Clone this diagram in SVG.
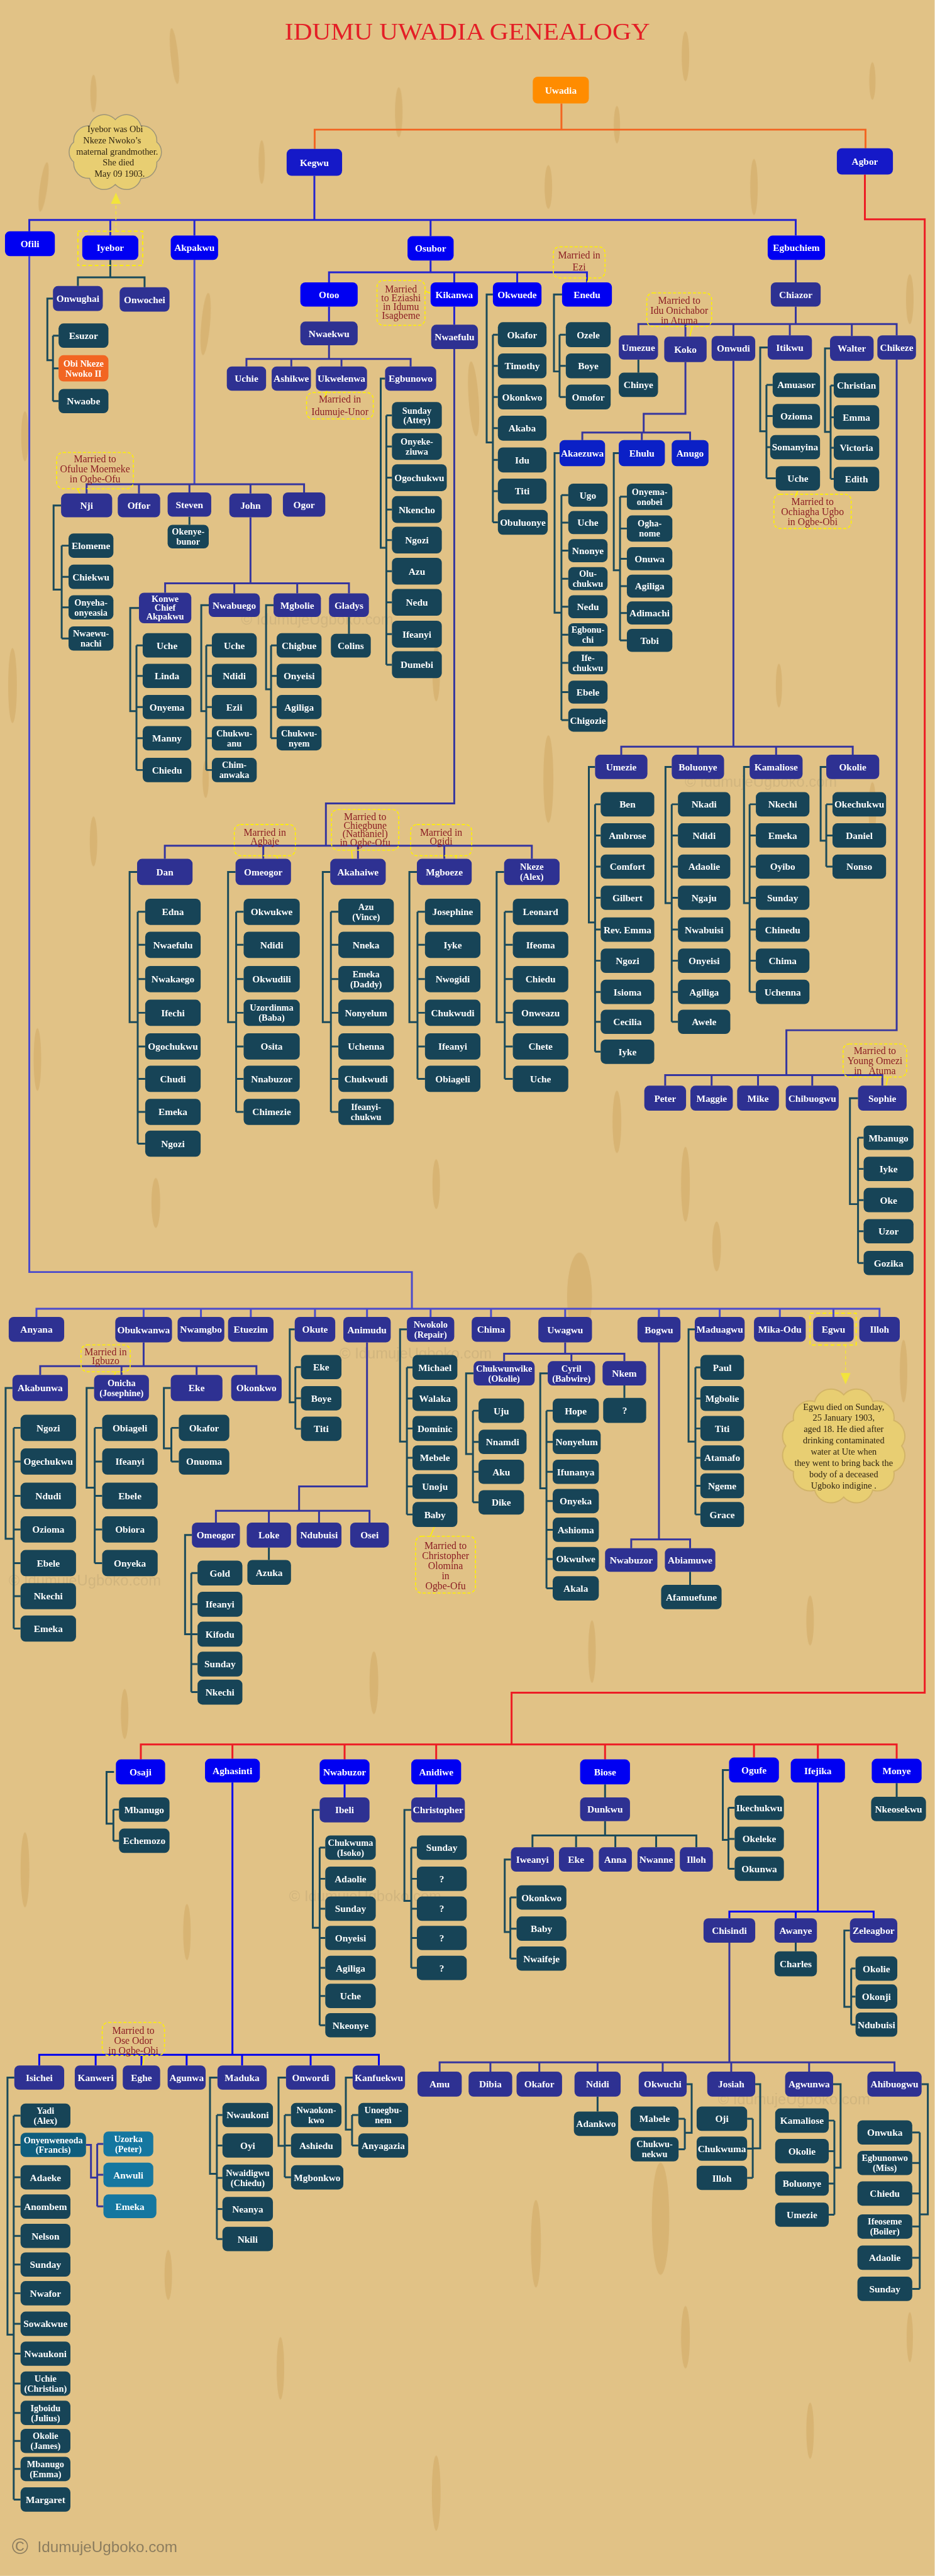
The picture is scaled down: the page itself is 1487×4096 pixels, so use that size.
<svg xmlns="http://www.w3.org/2000/svg" width="1487" height="4096" viewBox="0 0 1487 4096">
<style>
.nodes rect{rx:8px;ry:8px}
.b{fill:#0000F2}.k{fill:#1519C8}.a{fill:#0B20C6}.i{fill:#2E3192}.t{fill:#174457}.o{fill:#FF8C00}.r{fill:#F26522}.l{fill:#1577A0}.f{fill:#0F5E7E}
.nodes text{fill:#fff;font-family:"Liberation Serif",serif;font-weight:bold;font-size:15.5px;text-anchor:middle}
.nodes text.s{font-size:14.5px}
#connectors path{fill:none;stroke-width:3}
.cO{stroke:#F26522}.cR{stroke:#ED1C24}.cB{stroke:#2323D0}.cL{stroke:#4A4ACC}.cI{stroke:#35359F}.cV{stroke:#0000F0}.cT{stroke:#1A4A5B}
.note rect{fill:none;stroke:#FFF200;stroke-width:1.6;stroke-dasharray:5 3;rx:10px;ry:10px}
.note text{fill:#8B1D24;font-family:"Liberation Serif",serif;font-size:16px;text-anchor:middle}
.tail{fill:none;stroke:#FFF200;stroke-width:1.6}
.cloud text{fill:#2A1F0F;font-family:"Liberation Serif",serif;font-size:14.5px;text-anchor:middle}
.wm{fill:#8C7D5F;font-family:"Liberation Sans",sans-serif}
</style>
<g transform="scale(0.991)">
<rect width="1500" height="4133" fill="#E1C286"/>
<g id="texture" fill="#D2AB68" opacity="0.6">
<ellipse cx="70" cy="300" rx="6" ry="40" transform="rotate(8 70 300)"/>
<ellipse cx="150" cy="150" rx="5" ry="30"/>
<ellipse cx="280" cy="90" rx="6" ry="45" transform="rotate(-6 280 90)"/>
<ellipse cx="420" cy="260" rx="5" ry="35"/>
<ellipse cx="330" cy="520" rx="7" ry="50" transform="rotate(5 330 520)"/>
<ellipse cx="640" cy="180" rx="6" ry="40"/>
<ellipse cx="760" cy="640" rx="8" ry="60" transform="rotate(-4 760 640)"/>
<ellipse cx="880" cy="300" rx="6" ry="35"/>
<ellipse cx="990" cy="200" rx="5" ry="30"/>
<ellipse cx="1100" cy="90" rx="6" ry="40"/>
<ellipse cx="1210" cy="300" rx="6" ry="45"/>
<ellipse cx="1400" cy="130" rx="5" ry="30"/>
<ellipse cx="1460" cy="480" rx="6" ry="40"/>
<ellipse cx="40" cy="700" rx="6" ry="40"/>
<ellipse cx="20" cy="1100" rx="7" ry="60"/>
<ellipse cx="150" cy="1350" rx="6" ry="40"/>
<ellipse cx="330" cy="1250" rx="5" ry="30"/>
<ellipse cx="60" cy="1700" rx="6" ry="50"/>
<ellipse cx="250" cy="1930" rx="7" ry="40"/>
<ellipse cx="700" cy="1080" rx="6" ry="45"/>
<ellipse cx="880" cy="1250" rx="8" ry="70"/>
<ellipse cx="990" cy="1800" rx="7" ry="50"/>
<ellipse cx="700" cy="1900" rx="6" ry="40"/>
<ellipse cx="1250" cy="1100" rx="5" ry="35"/>
<ellipse cx="1400" cy="1300" rx="6" ry="45"/>
<ellipse cx="1100" cy="1900" rx="7" ry="60"/>
<ellipse cx="1300" cy="2600" rx="6" ry="40"/>
<ellipse cx="1450" cy="2200" rx="6" ry="50"/>
<ellipse cx="600" cy="2700" rx="7" ry="50"/>
<ellipse cx="200" cy="2750" rx="6" ry="40"/>
<ellipse cx="40" cy="3000" rx="7" ry="60"/>
<ellipse cx="300" cy="3100" rx="6" ry="45"/>
<ellipse cx="860" cy="3600" rx="8" ry="70"/>
<ellipse cx="1100" cy="3750" rx="7" ry="50"/>
<ellipse cx="450" cy="3800" rx="6" ry="50"/>
<ellipse cx="1300" cy="3900" rx="6" ry="45"/>
<ellipse cx="700" cy="4000" rx="7" ry="60"/>
<ellipse cx="1460" cy="3750" rx="5" ry="40"/>
<ellipse cx="270" cy="3650" rx="6" ry="40"/>
<ellipse cx="950" cy="2650" rx="6" ry="50"/>
<ellipse cx="1150" cy="2000" rx="7" ry="40"/>
<ellipse cx="1060" cy="3560" rx="14" ry="90"/>
<ellipse cx="930" cy="2080" rx="20" ry="70"/>
</g>
<g id="watermarks" opacity="0.18">
<text class="wm" x="387" y="1002" font-size="24">© IdumujeUgboko.com</text>
<text class="wm" x="1099" y="1262" font-size="24">© IdumujeUgboko.com</text>
<text class="wm" x="14" y="2544" font-size="24">© IdumujeUgboko.com</text>
<text class="wm" x="545" y="2180" font-size="24">© IdumujeUgboko.com</text>
<text class="wm" x="464" y="3050" font-size="24">© IdumujeUgboko.com</text>
<text class="wm" x="1152" y="3376" font-size="24">© IdumujeUgboko.com</text>
</g>
<text id="title" x="750" y="64" font-family="Liberation Serif, serif" font-size="39" fill="#E41E26" text-anchor="middle" textLength="586" lengthAdjust="spacingAndGlyphs">IDUMU UWADIA GENEALOGY</text>

<g id="connectors">
<path class="cO" d="M901 166V208M505 239V208H1389V238"/>
<path class="cR" d="M1388 280V352H1484V2716H821V2799M226 2823V2799H1439V2822M373 2822V2799M553 2823V2799M700 2823V2799M971 2823V2799M1210 2820V2799M1312.5 2822V2799"/>
<path class="cB" d="M504.5 282V353M47 371V353H1277V378M177 378V353M312 378V353M691 379V353M691 418V437M528 453V437H942V453M729 453V437M830 453V437M528 492V516M729 492V521"/>
<path class="cL" d="M47 411V2041H661V2100M58.5 2113V2100H1411.5V2113M230.5 2113V2100M322.5 2113V2100M402.5 2113V2100M505.5 2113V2100M589 2113V2100M691 2113V2100M788 2113V2100M907 2113V2100M1057.5 2113V2100M1155 2113V2100M1251.5 2113V2100M1337.5 2113V2100M312 417V777"/>
<path class="cI" d="M528 554V576M395.5 588V576H659V588M467.5 588V576M548 588V576"/>
<path class="cI" d="M1277 417V453M1277 492V520M1024.5 538V520H1439V538M1100 540V520M1177 539V520M1267.5 538V520M1367 539V520"/>
<path class="cI" d="M1100 581V664H1033V694M934.5 706V694H1107.5V706M1030 706V694"/>
<path class="cI" d="M1177 579V1198M997 1211V1198H1368.5V1211M1120 1211V1198M1245.5 1211V1198"/>
<path class="cI" d="M1439 577V1653H1262V1725M1067.5 1742V1725H1416V1742M1142 1742V1725M1216.5 1742V1725M1303.5 1742V1725"/>
<path class="cI" d="M139 792V777H488V790M223 792V777M304 790V777M402 792V777"/>
<path class="cI" d="M402 830V936M265 951V936H560V952M376 952V936M477 952V936"/>
<path class="cI" d="M729 560V1289H523V1357M264.5 1378V1357H853.5V1378M422.5 1378V1357M574.5 1378V1357M713 1378V1357"/>
<path class="cI" d="M230.5 2154V2192M64.5 2206V2192H411.5V2206M195 2206V2192M315.5 2206V2192"/>
<path class="cI" d="M589 2154V2385H480V2424M346.5 2443V2424H593V2443M431.5 2443V2424M512 2443V2424"/>
<path class="cI" d="M907 2154V2172M809 2184V2172H1002V2184M917 2184V2172"/>
<path class="cI" d="M1057.5 2154V2470M1013 2484V2470H1107.5V2484"/>
<path class="cI" d="M1170.5 3117V3309M705.5 3324V3309H1435.5V3324M787 3324V3309M865.5 3324V3309M959 3324V3309M1063.5 3324V3309M1173.5 3324V3309M1298.5 3324V3309"/>
<path class="cI" d="M138 3441.5H146V3494H156M156 3440V3540M156 3440H166M156 3489.5H166M156 3540H166"/>
<path class="cV" d="M373 2860V3297M63 3314V3297H608V3314M153.5 3314V3297M227 3314V3297M299.5 3314V3297M388.5 3314V3297M498.5 3314V3297M553 2863V2884M700 2863V2884M1312.5 2860V3067M1170.5 3078V3067H1402V3078M1277 3078V3067"/>
<path class="cT" d="M177 417V445M125 459V445H232V461"/>
<path class="cT" d="M85 479H76V578H85M85 538.5V643.5M85 538.5H94M85 591H94M85 643.5H94"/>
<path class="cT" d="M618 607.5H611V879H620M620 666.5V1066.5M620 666.5H629M620 716.5H629M620 766.5H629M620 817.5H629M620 866.5H629M620 916.5H629M620 966.5H629M620 1017.5H629M620 1066.5H629"/>
<path class="cT" d="M791 472.5H781V710H791M791 537V838M791 537H799M791 587H799M791 637H799M791 687H799M791 738H799M791 788H799M791 838H799"/>
<path class="cT" d="M902 472.5H889V596H898M898 537V637M898 537H908M898 587H908M898 637H908"/>
<path class="cT" d="M1024.5 577V598"/>
<path class="cT" d="M1232 557.5H1220V692H1230M1230 617.5V767.5M1230 617.5H1240M1230 667.5H1240M1230 717.5H1236M1230 767.5H1245"/>
<path class="cT" d="M1332 559H1324V693H1333M1333 618.5V768.5M1333 618.5H1338M1333 669.5H1338M1333 718.5H1338M1333 768.5H1338"/>
<path class="cT" d="M898 727H890V983H901M901 794.5V1155.5M901 794.5H912M901 838.5H912M901 883.5H912M901 928.5H912M901 973.5H912M901 1018.5H912M901 1063.5H912M901 1110.5H912M901 1155.5H912"/>
<path class="cT" d="M993 727H985V915H995M995 797V1027.5M995 797H1006M995 848H1006M995 896.5H1006M995 940.5H1006M995 983.5H1006M995 1027.5H1006"/>
<path class="cT" d="M955 1230.5H945V1480H955M955 1290.5V1687.5M955 1290.5H964M955 1340.5H964M955 1390.5H964M955 1440.5H964M955 1491.5H964M955 1541.5H964M955 1591.5H964M955 1639.5H964M955 1687.5H964"/>
<path class="cT" d="M1078 1230.5H1068V1449H1078M1078 1290.5V1639.5M1078 1290.5H1088M1078 1340.5H1088M1078 1390.5H1088M1078 1440.5H1088M1078 1491.5H1088M1078 1541.5H1088M1078 1591.5H1088M1078 1639.5H1088"/>
<path class="cT" d="M1203 1230.5H1194V1449H1203M1203 1290.5V1591.5M1203 1290.5H1213M1203 1340.5H1213M1203 1390.5H1213M1203 1440.5H1213M1203 1491.5H1213M1203 1541.5H1213M1203 1591.5H1213"/>
<path class="cT" d="M1326 1230.5H1317V1349H1326M1326 1290.5V1390.5M1326 1290.5H1336M1326 1340.5H1336M1326 1390.5H1336"/>
<path class="cT" d="M1377 1762H1364V1932H1377M1377 1825.5V2026.5M1377 1825.5H1386M1377 1875.5H1386M1377 1925.5H1386M1377 1975.5H1386M1377 2026.5H1386"/>
<path class="cT" d="M304 829V842"/>
<path class="cT" d="M98 811H86V946H99M99 875.5V1024.5M99 875.5H110M99 925.5H110M99 974.5H110M99 1024.5H110"/>
<path class="cT" d="M223 975.5H209V1141H219M219 1035.5V1235.5M219 1035.5H229M219 1084.5H229M219 1134.5H229M219 1184.5H229M219 1235.5H229"/>
<path class="cT" d="M335 971H323V1141H331M331 1035.5V1235.5M331 1035.5H340M331 1084.5H340M331 1134.5H340M331 1184.5H340M331 1235.5H340"/>
<path class="cT" d="M439 971H427V1106H435M435 1035.5V1184.5M435 1035.5H444M435 1084.5H444M435 1134.5H444M435 1184.5H444"/>
<path class="cT" d="M560 990V1017"/>
<path class="cT" d="M220 1399H208V1640H221M221 1463V1835M221 1463H233M221 1516H233M221 1571H233M221 1625H233M221 1679H233M221 1731H233M221 1784H233M221 1835H233"/>
<path class="cT" d="M378 1399H366V1640H379M379 1463V1784M379 1463H391M379 1516H391M379 1571H391M379 1625H391M379 1679H391M379 1731H391M379 1784H391"/>
<path class="cT" d="M530 1399H518V1640H531M531 1463V1784M531 1463H543M531 1516H543M531 1571H543M531 1625H543M531 1679H543M531 1731H543M531 1784H543"/>
<path class="cT" d="M669 1399H657V1640H670M670 1463V1731M670 1463H682M670 1516H682M670 1571H682M670 1625H682M670 1679H682M670 1731H682"/>
<path class="cT" d="M809 1399H797V1640H810M810 1463V1731M810 1463H823M810 1516H823M810 1571H823M810 1625H823M810 1679H823M810 1731H823"/>
<path class="cT" d="M20 2227H9V2469H22M22 2291V2613M22 2291H33M22 2345H33M22 2400H33M22 2454H33M22 2508H33M22 2561H33M22 2613H33"/>
<path class="cT" d="M151 2227H139V2387H152M152 2291V2508M152 2291H164M152 2345H164M152 2400H164M152 2454H164M152 2508H164"/>
<path class="cT" d="M274 2227H263V2324H275M275 2291V2345M275 2291H287M275 2345H287"/>
<path class="cT" d="M473 2133H465V2250H474M474 2193.5V2292.5M474 2193.5H483M474 2243.5H483M474 2292.5H483"/>
<path class="cT" d="M308 2463H297V2622H307M307 2524V2715M307 2524H317M307 2574H317M307 2622H317M307 2670H317M307 2715H317"/>
<path class="cT" d="M431.5 2483V2503"/>
<path class="cT" d="M653 2133H642V2313H653M653 2194V2430M653 2194H662M653 2244H662M653 2292H662M653 2339H662M653 2385H662M653 2430H662"/>
<path class="cT" d="M1002 2223V2243"/>
<path class="cT" d="M760 2203.5H748V2333H759M759 2263.5V2410.5M759 2263.5H768M759 2313.5H768M759 2361.5H768M759 2410.5H768"/>
<path class="cT" d="M879 2203.5H867V2388H877M877 2263.5V2548.5M877 2263.5H887M877 2313.5H887M877 2361.5H887M877 2408.5H887M877 2454.5H887M877 2501.5H887M877 2548.5H887"/>
<path class="cT" d="M1107.5 2522V2543"/>
<path class="cT" d="M1115 2133H1105V2313H1116M1116 2194V2430M1116 2194H1124M1116 2244H1124M1116 2292H1124M1116 2339H1124M1116 2384H1124M1116 2430H1124"/>
<path class="cT" d="M183 2843H171V2926H182M182 2903.5V2953.5M182 2903.5H191M182 2953.5H191"/>
<path class="cT" d="M513 2904H502V3093H513M513 2964.5V3249.5M513 2964.5H522M513 3014.5H522M513 3062.5H522M513 3109.5H522M513 3157.5H522M513 3202.5H522M513 3249.5H522"/>
<path class="cT" d="M660 2904H649V3050H660M660 2964.5V3157.5M660 2964.5H669M660 3014.5H669M660 3062.5H669M660 3109.5H669M660 3157.5H669"/>
<path class="cT" d="M971 2863V2884M971 2922V2945M854.5 2964V2945H1117.5V2964M924.5 2964V2945M987.5 2964V2945M1053 2964V2945"/>
<path class="cT" d="M820 2983.5H810V3100H819M819 3044.5V3142.5M819 3044.5H829M819 3094.5H829M819 3142.5H829"/>
<path class="cT" d="M1170 2840H1160V2952H1169M1169 2900.5V2998.5M1169 2900.5H1179M1169 2950.5H1179M1169 2998.5H1179"/>
<path class="cT" d="M1439 2861V2883M1277 3117V3131M959 3364V3388"/>
<path class="cT" d="M1364 3097.5H1355V3220H1366M1366 3158.5V3248.5M1366 3158.5H1373M1366 3203.5H1373M1366 3248.5H1373"/>
<path class="cT" d="M1102 3344H1110V3422H1099M1099 3399.5V3448.5M1099 3399.5H1089M1099 3448.5H1089"/>
<path class="cT" d="M1212 3344H1220V3447H1208M1208 3399.5V3494.5M1208 3399.5H1199M1208 3447.5H1199M1208 3494.5H1199"/>
<path class="cT" d="M1337 3344H1349V3478H1339M1339 3402.5V3553.5M1339 3402.5H1330M1339 3451.5H1330M1339 3503.5H1330M1339 3553.5H1330"/>
<path class="cT" d="M1479 3344H1489V3553H1476M1476 3421.5V3672.5M1476 3421.5H1464M1476 3470.5H1464M1476 3519.5H1464M1476 3572.5H1464M1476 3622.5H1464M1476 3672.5H1464"/>
<path class="cT" d="M23 3333.5H12V3746H22M22 3394.5V4010.5M22 3394.5H33M22 3441.5H33M22 3493.5H33M22 3540.5H33M22 3587.5H33M22 3633.5H33M22 3679.5H33M22 3728.5H33M22 3776.5H33M22 3824.5H33M22 3871.5H33M22 3916.5H33M22 3961.5H33M22 4010.5H33"/>
<path class="cT" d="M349 3333.5H337V3488H348M348 3393.5V3592.5M348 3393.5H357M348 3442.5H357M348 3494.5H357M348 3544.5H357M348 3592.5H357"/>
<path class="cT" d="M459 3333.5H447V3443H457M457 3393.5V3493.5M457 3393.5H467M457 3442.5H467M457 3493.5H467"/>
<path class="cT" d="M566 3333.5H555V3417H565M565 3393.5V3442.5M565 3393.5H575M565 3442.5H575"/>
</g>

<g id="annotations">
<g id="cloud-iyebor" class="cloud">
<path d="M185 192A24 24 0 0 1 226.2 201.9A24 24 0 0 1 251.6 227.9A21 21 0 0 1 251.6 260.1A24 24 0 0 1 226.2 286.1A24 24 0 0 1 185 296A24 24 0 0 1 143.8 286.1A24 24 0 0 1 118.4 260.1A21 21 0 0 1 118.4 227.9A24 24 0 0 1 143.8 201.9A24 24 0 0 1 185 192Z" fill="#E8CE72" stroke="#9C9478" stroke-width="1.5"/>
<text x="185" y="212">Iyebor was Obi</text>
<text x="180" y="230">Nkeze Nwoko’s</text>
<text x="188" y="248">maternal grandmother.</text>
<text x="190" y="265">She died</text>
<text x="192" y="284">May 09 1903.</text>
</g>
<rect x="125" y="371" width="104" height="55" fill="none" stroke="#FFF200" stroke-width="1.8" stroke-dasharray="6 4"/>
<path d="M186 371V322" fill="none" stroke="#F2E43C" stroke-width="1.5" stroke-dasharray="5 4"/>
<polygon points="186,309 178,327 194,327" fill="#F2E43C"/>
<g id="cloud-egwu" class="cloud">
<path d="M1354 2238A27 27 0 0 1 1400.5 2249A27 27 0 0 1 1434.5 2279A27 27 0 0 1 1447 2320A27 27 0 0 1 1434.5 2361A27 27 0 0 1 1400.5 2391A27 27 0 0 1 1354 2402A27 27 0 0 1 1307.5 2391A27 27 0 0 1 1273.5 2361A27 27 0 0 1 1261 2320A27 27 0 0 1 1273.5 2279A27 27 0 0 1 1307.5 2249A27 27 0 0 1 1354 2238Z" fill="#E8CE72" stroke="#D2B468" stroke-width="2"/>
<text x="1354" y="2262">Egwu died on Sunday,</text>
<text x="1354" y="2280">25 January 1903,</text>
<text x="1354" y="2298">aged 18. He died after</text>
<text x="1354" y="2316">drinking contaminated</text>
<text x="1354" y="2334">water at Ute when</text>
<text x="1354" y="2352">they went to  bring back the</text>
<text x="1354" y="2370">body of a deceased</text>
<text x="1354" y="2388">Ugboko indigine .</text>
</g>
<rect x="1300" y="2107" width="74" height="51" fill="none" stroke="#FFF200" stroke-width="1.8" stroke-dasharray="6 4"/>
<path d="M1357 2158V2205" fill="none" stroke="#F2E43C" stroke-width="1.5" stroke-dasharray="5 4"/>
<polygon points="1357,2221 1349,2203 1365,2203" fill="#F2E43C"/>
<g class="note" id="note-eziashi"><rect x="605" y="450" width="77" height="72"/><text x="643.5" y="469.5">Married</text><text x="643.5" y="483.5">to Eziashi</text><text x="643.5" y="497.5">in Idumu</text><text x="643.5" y="511.5">Isagbeme</text></g>
<g class="note" id="note-unor"><rect x="492" y="630" width="107" height="42"/><text x="545.5" y="645.5">Married in</text><text x="545.5" y="665.5">Idumuje-Unor</text></g>
<g class="note" id="note-ezi"><rect x="888" y="396" width="83" height="50"/><text x="929.5" y="414.5">Married in</text><text x="929.5" y="433.5">Ezi</text></g>
<g class="note" id="note-onichabor"><rect x="1038" y="470" width="104" height="54"/><text x="1090" y="487.5">Married to</text><text x="1090" y="503.5">Idu Onichabor</text><text x="1090" y="519.5">in Atuma</text></g>
<g class="note" id="note-ofulue"><rect x="91" y="726" width="123" height="58"/><text x="152.5" y="741.5">Married to</text><text x="152.5" y="757.5">Ofulue Moemeke</text><text x="152.5" y="773.5">in Ogbe-Ofu</text></g>
<g class="note" id="note-ochiagha"><rect x="1242" y="793" width="124" height="55"/><text x="1304" y="810.5">Married to</text><text x="1304" y="826.5">Ochiagha Ugbo</text><text x="1304" y="842.5">in Ogbe-Obi</text></g>
<g class="note" id="note-agbaje"><rect x="376" y="1323" width="98" height="50"/><text x="425" y="1341.5">Married in</text><text x="425" y="1355.5">Agbaje</text></g>
<g class="note" id="note-chiegbune"><rect x="532" y="1299" width="108" height="65"/><text x="586" y="1315.5">Married to</text><text x="586" y="1329.5">Chiegbune</text><text x="586" y="1343.5">(Nathaniel)</text><text x="586" y="1357.5">in Ogbe-Ofu</text></g>
<g class="note" id="note-ogidi"><rect x="659" y="1323" width="98" height="50"/><text x="708" y="1341.5">Married in</text><text x="708" y="1355.5">Ogidi</text></g>
<g class="note" id="note-omezi"><rect x="1353" y="1675" width="102" height="53"/><text x="1404" y="1691.5">Married to</text><text x="1404" y="1707.5">Young Omezi</text><text x="1404" y="1723.5" xml:space="preserve">in   Atuma</text></g>
<g class="note" id="note-igbuzo"><rect x="130" y="2158" width="79" height="43"/><text x="169.5" y="2174.5">Married in</text><text x="169.5" y="2188.5">Igbuzo</text></g>
<g class="note" id="note-olomina"><rect x="667" y="2465" width="96" height="91"/><text x="715" y="2485.5">Married to</text><text x="715" y="2501.5">Christopher</text><text x="715" y="2517.5">Olomina</text><text x="715" y="2533.5">in</text><text x="715" y="2549.5">Ogbe-Ofu</text></g>
<g class="note" id="note-oseodor"><rect x="164" y="3245" width="100" height="53"/><text x="214" y="3263.5">Married to</text><text x="214" y="3279.5">Ose Odor</text><text x="214" y="3295.5">in Ogbe-Obi</text></g>
<path class="tail" d="M682 466Q687 470 691 470M525 627L521 637M946 446L942 454M1111 524L1107 540M124 784L130 795M1280 788L1276 798M444 1373L446 1380M564 1364L566 1380M731 1373L733 1380M1425 1728L1422 1742M186 2201L182 2210M697 2450L690 2466M232 3298L229 3314"/>
</g>

<g id="nodes" class="nodes">
<g id="uwadia"><rect class="o" x="855" y="123" width="90" height="43"/><text x="900" y="150">Uwadia</text></g>
<g id="kegwu"><rect class="k" x="460" y="239" width="89" height="43"/><text x="504.5" y="266">Kegwu</text></g>
<g id="agbor"><rect class="k" x="1343" y="238" width="90" height="42"/><text x="1388" y="264.5">Agbor</text></g>
<g id="ofili"><rect class="b" x="8" y="371" width="80" height="40"/><text x="48" y="396.5">Ofili</text></g>
<g id="iyebor"><rect class="b" x="132" y="378" width="90" height="39"/><text x="177" y="403">Iyebor</text></g>
<g id="akpakwu"><rect class="b" x="274" y="378" width="76" height="39"/><text x="312" y="403">Akpakwu</text></g>
<g id="osubor"><rect class="b" x="654" y="379" width="74" height="39"/><text x="691" y="404">Osubor</text></g>
<g id="egbuchiem"><rect class="b" x="1232" y="378" width="92" height="39"/><text x="1278" y="403">Egbuchiem</text></g>

<g id="onwughai"><rect class="i" x="85" y="459" width="80" height="40"/><text x="125" y="484.5">Onwughai</text></g>
<g id="onwochei"><rect class="i" x="192" y="461" width="80" height="39"/><text x="232" y="486">Onwochei</text></g>
<g id="esuzor"><rect class="t" x="94" y="519" width="80" height="39"/><text x="134" y="544">Esuzor</text></g>
<g id="obi-nkeze"><rect class="r" x="94" y="570" width="80" height="42"/><text class="s" x="134" y="588">Obi Nkeze<tspan x="134" y="604">Nwoko II</tspan></text></g>
<g id="nwaobe"><rect class="t" x="94" y="624" width="80" height="39"/><text x="134" y="649">Nwaobe</text></g>

<g id="otoo"><rect class="b" x="482" y="453" width="92" height="39"/><text x="528" y="478">Otoo</text></g>
<g id="kikanwa"><rect class="b" x="691" y="453" width="76" height="39"/><text x="729" y="478">Kikanwa</text></g>
<g id="okwuede"><rect class="b" x="791" y="453" width="78" height="39"/><text x="830" y="478">Okwuede</text></g>
<g id="enedu"><rect class="b" x="902" y="453" width="80" height="39"/><text x="942" y="478">Enedu</text></g>
<g id="nwaekwu"><rect class="i" x="482" y="516" width="92" height="38"/><text x="528" y="540.5">Nwaekwu</text></g>
<g id="nwaefulu"><rect class="i" x="692" y="521" width="75" height="39"/><text x="729.5" y="546">Nwaefulu</text></g>
<g id="uchie"><rect class="i" x="364" y="588" width="63" height="39"/><text x="395.5" y="613">Uchie</text></g>
<g id="ashikwe"><rect class="i" x="436" y="588" width="63" height="39"/><text x="467.5" y="613">Ashikwe</text></g>
<g id="ukwelenwa"><rect class="i" x="507" y="588" width="82" height="39"/><text x="548" y="613">Ukwelenwa</text></g>
<g id="egbunowo"><rect class="i" x="618" y="588" width="82" height="39"/><text x="659" y="613">Egbunowo</text></g>
<g id="eg-1"><rect class="t" x="629" y="645" width="80" height="43"/><text class="s" x="669" y="663.5">Sunday<tspan x="669" y="679.5">(Attey)</tspan></text></g>
<g id="eg-2"><rect class="t" x="629" y="695" width="80" height="43"/><text class="s" x="669" y="713.5">Onyeke-<tspan x="669" y="729.5">ziuwa</tspan></text></g>
<g id="eg-3"><rect class="t" x="629" y="745" width="88" height="43"/><text x="673" y="772">Ogochukwu</text></g>
<g id="eg-4"><rect class="t" x="629" y="796" width="80" height="43"/><text x="669" y="823">Nkencho</text></g>
<g id="eg-5"><rect class="t" x="629" y="845" width="80" height="43"/><text x="669" y="872">Ngozi</text></g>
<g id="eg-6"><rect class="t" x="629" y="895" width="80" height="43"/><text x="669" y="922">Azu</text></g>
<g id="eg-7"><rect class="t" x="629" y="945" width="80" height="43"/><text x="669" y="972">Nedu</text></g>
<g id="eg-8"><rect class="t" x="629" y="996" width="80" height="43"/><text x="669" y="1023">Ifeanyi</text></g>
<g id="eg-9"><rect class="t" x="629" y="1045" width="80" height="43"/><text x="669" y="1072">Dumebi</text></g>

<g id="ok-1"><rect class="t" x="799" y="517" width="78" height="40"/><text x="838" y="542.5">Okafor</text></g>
<g id="ok-2"><rect class="t" x="799" y="567" width="78" height="40"/><text x="838" y="592.5">Timothy</text></g>
<g id="ok-3"><rect class="t" x="799" y="617" width="78" height="40"/><text x="838" y="642.5">Okonkwo</text></g>
<g id="ok-4"><rect class="t" x="799" y="667" width="78" height="40"/><text x="838" y="692.5">Akaba</text></g>
<g id="ok-5"><rect class="t" x="799" y="718" width="78" height="40"/><text x="838" y="743.5">Idu</text></g>
<g id="ok-6"><rect class="t" x="799" y="768" width="78" height="40"/><text x="838" y="793.5">Titi</text></g>
<g id="ok-7"><rect class="t" x="799" y="818" width="80" height="40"/><text x="839" y="843.5">Obuluonye</text></g>
<g id="en-1"><rect class="t" x="908" y="517" width="72" height="40"/><text x="944" y="542.5">Ozele</text></g>
<g id="en-2"><rect class="t" x="908" y="567" width="72" height="40"/><text x="944" y="592.5">Boye</text></g>
<g id="en-3"><rect class="t" x="908" y="617" width="72" height="40"/><text x="944" y="642.5">Omofor</text></g>

<g id="chiazor"><rect class="i" x="1237" y="453" width="80" height="39"/><text x="1277" y="478">Chiazor</text></g>
<g id="umezue"><rect class="i" x="993" y="538" width="63" height="39"/><text x="1024.5" y="563">Umezue</text></g>
<g id="koko"><rect class="i" x="1066" y="540" width="68" height="41"/><text x="1100" y="566">Koko</text></g>
<g id="onwudi"><rect class="i" x="1142" y="539" width="70" height="40"/><text x="1177" y="564.5">Onwudi</text></g>
<g id="itikwu"><rect class="i" x="1232" y="538" width="71" height="39"/><text x="1267.5" y="563">Itikwu</text></g>
<g id="walter"><rect class="i" x="1332" y="539" width="70" height="40"/><text x="1367" y="564.5">Walter</text></g>
<g id="chikeze"><rect class="i" x="1408" y="538" width="62" height="39"/><text x="1439" y="563">Chikeze</text></g>
<g id="chinye"><rect class="t" x="993" y="598" width="63" height="39"/><text x="1024.5" y="623">Chinye</text></g>
<g id="it-1"><rect class="t" x="1240" y="598" width="76" height="39"/><text x="1278" y="623">Amuasor</text></g>
<g id="it-2"><rect class="t" x="1240" y="648" width="76" height="39"/><text x="1278" y="673">Ozioma</text></g>
<g id="it-3"><rect class="t" x="1236" y="698" width="80" height="39"/><text x="1276" y="723">Somanyina</text></g>
<g id="it-4"><rect class="t" x="1245" y="748" width="71" height="39"/><text x="1280.5" y="773">Uche</text></g>
<g id="wa-1"><rect class="t" x="1338" y="599" width="73" height="39"/><text x="1374.5" y="624">Christian</text></g>
<g id="wa-2"><rect class="t" x="1338" y="650" width="73" height="39"/><text x="1374.5" y="675">Emma</text></g>
<g id="wa-3"><rect class="t" x="1338" y="699" width="73" height="39"/><text x="1374.5" y="724">Victoria</text></g>
<g id="wa-4"><rect class="t" x="1338" y="749" width="73" height="39"/><text x="1374.5" y="774">Edith</text></g>

<g id="akaezuwa"><rect class="a" x="898" y="706" width="73" height="42"/><text x="934.5" y="732.5">Akaezuwa</text></g>
<g id="ehulu"><rect class="a" x="993" y="706" width="74" height="42"/><text x="1030" y="732.5">Ehulu</text></g>
<g id="anugo"><rect class="a" x="1078" y="706" width="59" height="42"/><text x="1107.5" y="732.5">Anugo</text></g>
<g id="ak-1"><rect class="t" x="912" y="776" width="63" height="37"/><text x="943.5" y="800">Ugo</text></g>
<g id="ak-2"><rect class="t" x="912" y="820" width="63" height="37"/><text x="943.5" y="844">Uche</text></g>
<g id="ak-3"><rect class="t" x="912" y="865" width="63" height="37"/><text x="943.5" y="889">Nnonye</text></g>
<g id="ak-4"><rect class="t" x="912" y="910" width="63" height="37"/><text class="s" x="943.5" y="925.5">Olu-<tspan x="943.5" y="941.5">chukwu</tspan></text></g>
<g id="ak-5"><rect class="t" x="912" y="955" width="63" height="37"/><text x="943.5" y="979">Nedu</text></g>
<g id="ak-6"><rect class="t" x="912" y="1000" width="63" height="37"/><text class="s" x="943.5" y="1015.5">Egbonu-<tspan x="943.5" y="1031.5">chi</tspan></text></g>
<g id="ak-7"><rect class="t" x="912" y="1045" width="63" height="37"/><text class="s" x="943.5" y="1060.5">Ife-<tspan x="943.5" y="1076.5">chukwu</tspan></text></g>
<g id="ak-8"><rect class="t" x="912" y="1092" width="63" height="37"/><text x="943.5" y="1116">Ebele</text></g>
<g id="ak-9"><rect class="t" x="912" y="1137" width="63" height="37"/><text x="943.5" y="1161">Chigozie</text></g>
<g id="eh-1"><rect class="t" x="1006" y="776" width="73" height="42"/><text class="s" x="1042.5" y="794">Onyema-<tspan x="1042.5" y="810">onobei</tspan></text></g>
<g id="eh-2"><rect class="t" x="1006" y="827" width="73" height="42"/><text class="s" x="1042.5" y="845">Ogha-<tspan x="1042.5" y="861">nome</tspan></text></g>
<g id="eh-3"><rect class="t" x="1006" y="878" width="73" height="37"/><text x="1042.5" y="902">Onuwa</text></g>
<g id="eh-4"><rect class="t" x="1006" y="922" width="73" height="37"/><text x="1042.5" y="946">Agiliga</text></g>
<g id="eh-5"><rect class="t" x="1006" y="965" width="73" height="37"/><text x="1042.5" y="989">Adimachi</text></g>
<g id="eh-6"><rect class="t" x="1006" y="1009" width="73" height="37"/><text x="1042.5" y="1033">Tobi</text></g>

<g id="umezie"><rect class="i" x="955" y="1211" width="84" height="39"/><text x="997" y="1236">Umezie</text></g>
<g id="boluonye"><rect class="i" x="1078" y="1211" width="84" height="39"/><text x="1120" y="1236">Boluonye</text></g>
<g id="kamaliose"><rect class="i" x="1203" y="1211" width="85" height="39"/><text x="1245.5" y="1236">Kamaliose</text></g>
<g id="okolie"><rect class="i" x="1326" y="1211" width="85" height="39"/><text x="1368.5" y="1236">Okolie</text></g>
<g id="um-1"><rect class="t" x="964" y="1271" width="86" height="39"/><text x="1007" y="1296">Ben</text></g>
<g id="um-2"><rect class="t" x="964" y="1321" width="86" height="39"/><text x="1007" y="1346">Ambrose</text></g>
<g id="um-3"><rect class="t" x="964" y="1371" width="86" height="39"/><text x="1007" y="1396">Comfort</text></g>
<g id="um-4"><rect class="t" x="964" y="1421" width="86" height="39"/><text x="1007" y="1446">Gilbert</text></g>
<g id="um-5"><rect class="t" x="964" y="1472" width="86" height="39"/><text x="1007" y="1497">Rev. Emma</text></g>
<g id="um-6"><rect class="t" x="964" y="1522" width="86" height="39"/><text x="1007" y="1547">Ngozi</text></g>
<g id="um-7"><rect class="t" x="964" y="1572" width="86" height="39"/><text x="1007" y="1597">Isioma</text></g>
<g id="um-8"><rect class="t" x="964" y="1620" width="86" height="39"/><text x="1007" y="1645">Cecilia</text></g>
<g id="um-9"><rect class="t" x="964" y="1668" width="86" height="39"/><text x="1007" y="1693">Iyke</text></g>
<g id="bo-1"><rect class="t" x="1088" y="1271" width="84" height="39"/><text x="1130" y="1296">Nkadi</text></g>
<g id="bo-2"><rect class="t" x="1088" y="1321" width="84" height="39"/><text x="1130" y="1346">Ndidi</text></g>
<g id="bo-3"><rect class="t" x="1088" y="1371" width="84" height="39"/><text x="1130" y="1396">Adaolie</text></g>
<g id="bo-4"><rect class="t" x="1088" y="1421" width="84" height="39"/><text x="1130" y="1446">Ngaju</text></g>
<g id="bo-5"><rect class="t" x="1088" y="1472" width="84" height="39"/><text x="1130" y="1497">Nwabuisi</text></g>
<g id="bo-6"><rect class="t" x="1088" y="1522" width="84" height="39"/><text x="1130" y="1547">Onyeisi</text></g>
<g id="bo-7"><rect class="t" x="1088" y="1572" width="84" height="39"/><text x="1130" y="1597">Agiliga</text></g>
<g id="bo-8"><rect class="t" x="1088" y="1620" width="84" height="39"/><text x="1130" y="1645">Awele</text></g>
<g id="ka-1"><rect class="t" x="1213" y="1271" width="86" height="39"/><text x="1256" y="1296">Nkechi</text></g>
<g id="ka-2"><rect class="t" x="1213" y="1321" width="86" height="39"/><text x="1256" y="1346">Emeka</text></g>
<g id="ka-3"><rect class="t" x="1213" y="1371" width="86" height="39"/><text x="1256" y="1396">Oyibo</text></g>
<g id="ka-4"><rect class="t" x="1213" y="1421" width="86" height="39"/><text x="1256" y="1446">Sunday</text></g>
<g id="ka-5"><rect class="t" x="1213" y="1472" width="86" height="39"/><text x="1256" y="1497">Chinedu</text></g>
<g id="ka-6"><rect class="t" x="1213" y="1522" width="86" height="39"/><text x="1256" y="1547">Chima</text></g>
<g id="ka-7"><rect class="t" x="1213" y="1572" width="86" height="39"/><text x="1256" y="1597">Uchenna</text></g>
<g id="ol-1"><rect class="t" x="1336" y="1271" width="86" height="39"/><text x="1379" y="1296">Okechukwu</text></g>
<g id="ol-2"><rect class="t" x="1336" y="1321" width="86" height="39"/><text x="1379" y="1346">Daniel</text></g>
<g id="ol-3"><rect class="t" x="1336" y="1371" width="86" height="39"/><text x="1379" y="1396">Nonso</text></g>

<g id="peter"><rect class="i" x="1034" y="1742" width="67" height="40"/><text x="1067.5" y="1767.5">Peter</text></g>
<g id="maggie"><rect class="i" x="1108" y="1742" width="68" height="40"/><text x="1142" y="1767.5">Maggie</text></g>
<g id="mike"><rect class="i" x="1183" y="1742" width="67" height="40"/><text x="1216.5" y="1767.5">Mike</text></g>
<g id="chibuogwu"><rect class="i" x="1261" y="1742" width="85" height="40"/><text x="1303.5" y="1767.5">Chibuogwu</text></g>
<g id="sophie"><rect class="i" x="1377" y="1742" width="78" height="40"/><text x="1416" y="1767.5">Sophie</text></g>
<g id="so-1"><rect class="t" x="1386" y="1806" width="80" height="39"/><text x="1426" y="1831">Mbanugo</text></g>
<g id="so-2"><rect class="t" x="1386" y="1856" width="80" height="39"/><text x="1426" y="1881">Iyke</text></g>
<g id="so-3"><rect class="t" x="1386" y="1906" width="80" height="39"/><text x="1426" y="1931">Oke</text></g>
<g id="so-4"><rect class="t" x="1386" y="1956" width="80" height="39"/><text x="1426" y="1981">Uzor</text></g>
<g id="so-5"><rect class="t" x="1386" y="2007" width="80" height="39"/><text x="1426" y="2032">Gozika</text></g>

<g id="nji"><rect class="i" x="98" y="792" width="82" height="38"/><text x="139" y="816.5">Nji</text></g>
<g id="offor"><rect class="i" x="189" y="792" width="68" height="38"/><text x="223" y="816.5">Offor</text></g>
<g id="steven"><rect class="i" x="269" y="790" width="70" height="39"/><text x="304" y="815">Steven</text></g>
<g id="john"><rect class="i" x="368" y="792" width="68" height="38"/><text x="402" y="816.5">John</text></g>
<g id="ogor"><rect class="i" x="454" y="790" width="68" height="39"/><text x="488" y="815">Ogor</text></g>
<g id="okenyebunor"><rect class="t" x="269" y="842" width="66" height="38"/><text class="s" x="302" y="858">Okenye-<tspan x="302" y="874">bunor</tspan></text></g>
<g id="nj-1"><rect class="t" x="110" y="856" width="72" height="39"/><text x="146" y="881">Elomeme</text></g>
<g id="nj-2"><rect class="t" x="110" y="906" width="72" height="39"/><text x="146" y="931">Chiekwu</text></g>
<g id="nj-3"><rect class="t" x="110" y="955" width="72" height="39"/><text class="s" x="146" y="971.5">Onyeha-<tspan x="146" y="987.5">onyeasia</tspan></text></g>
<g id="nj-4"><rect class="t" x="110" y="1005" width="72" height="39"/><text class="s" x="146" y="1021.5">Nwaewu-<tspan x="146" y="1037.5">nachi</tspan></text></g>
<g id="konwe"><rect class="i" x="223" y="951" width="84" height="49"/><text class="s" x="265" y="966">Konwe<tspan x="265" y="980">Chief</tspan><tspan x="265" y="994">Akpakwu</tspan></text></g>
<g id="nwabuego"><rect class="i" x="335" y="952" width="82" height="38"/><text x="376" y="976.5">Nwabuego</text></g>
<g id="mgbolie"><rect class="i" x="439" y="952" width="76" height="38"/><text x="477" y="976.5">Mgbolie</text></g>
<g id="gladys"><rect class="i" x="528" y="952" width="64" height="38"/><text x="560" y="976.5">Gladys</text></g>
<g id="colins"><rect class="t" x="531" y="1017" width="64" height="38"/><text x="563" y="1041.5">Colins</text></g>
<g id="kw-1"><rect class="t" x="229" y="1016" width="78" height="39"/><text x="268" y="1041">Uche</text></g>
<g id="kw-2"><rect class="t" x="229" y="1065" width="78" height="39"/><text x="268" y="1090">Linda</text></g>
<g id="kw-3"><rect class="t" x="229" y="1115" width="78" height="39"/><text x="268" y="1140">Onyema</text></g>
<g id="kw-4"><rect class="t" x="229" y="1165" width="78" height="39"/><text x="268" y="1190">Manny</text></g>
<g id="kw-5"><rect class="t" x="229" y="1216" width="78" height="39"/><text x="268" y="1241">Chiedu</text></g>
<g id="nb-1"><rect class="t" x="340" y="1016" width="72" height="39"/><text x="376" y="1041">Uche</text></g>
<g id="nb-2"><rect class="t" x="340" y="1065" width="72" height="39"/><text x="376" y="1090">Ndidi</text></g>
<g id="nb-3"><rect class="t" x="340" y="1115" width="72" height="39"/><text x="376" y="1140">Ezii</text></g>
<g id="nb-4"><rect class="t" x="340" y="1165" width="72" height="39"/><text class="s" x="376" y="1181.5">Chukwu-<tspan x="376" y="1197.5">anu</tspan></text></g>
<g id="nb-5"><rect class="t" x="340" y="1216" width="72" height="39"/><text class="s" x="376" y="1232.5">Chim-<tspan x="376" y="1248.5">anwaka</tspan></text></g>
<g id="mb-1"><rect class="t" x="444" y="1016" width="72" height="39"/><text x="480" y="1041">Chigbue</text></g>
<g id="mb-2"><rect class="t" x="444" y="1065" width="72" height="39"/><text x="480" y="1090">Onyeisi</text></g>
<g id="mb-3"><rect class="t" x="444" y="1115" width="72" height="39"/><text x="480" y="1140">Agiliga</text></g>
<g id="mb-4"><rect class="t" x="444" y="1165" width="72" height="39"/><text class="s" x="480" y="1181.5">Chukwu-<tspan x="480" y="1197.5">nyem</tspan></text></g>

<g id="dan"><rect class="i" x="220" y="1378" width="89" height="42"/><text x="264.5" y="1404.5">Dan</text></g>
<g id="omeogor"><rect class="i" x="378" y="1378" width="89" height="42"/><text x="422.5" y="1404.5">Omeogor</text></g>
<g id="akahaiwe"><rect class="i" x="530" y="1378" width="89" height="42"/><text x="574.5" y="1404.5">Akahaiwe</text></g>
<g id="mgboeze"><rect class="i" x="669" y="1378" width="88" height="42"/><text x="713" y="1404.5">Mgboeze</text></g>
<g id="nkeze"><rect class="i" x="809" y="1378" width="89" height="42"/><text class="s" x="853.5" y="1396">Nkeze<tspan x="853.5" y="1412">(Alex)</tspan></text></g>
<g id="dn-1"><rect class="t" x="233" y="1442" width="89" height="42"/><text x="277.5" y="1468.5">Edna</text></g>
<g id="dn-2"><rect class="t" x="233" y="1495" width="89" height="42"/><text x="277.5" y="1521.5">Nwaefulu</text></g>
<g id="dn-3"><rect class="t" x="233" y="1550" width="89" height="42"/><text x="277.5" y="1576.5">Nwakaego</text></g>
<g id="dn-4"><rect class="t" x="233" y="1604" width="89" height="42"/><text x="277.5" y="1630.5">Ifechi</text></g>
<g id="dn-5"><rect class="t" x="233" y="1658" width="89" height="42"/><text x="277.5" y="1684.5">Ogochukwu</text></g>
<g id="dn-6"><rect class="t" x="233" y="1710" width="89" height="42"/><text x="277.5" y="1736.5">Chudi</text></g>
<g id="dn-7"><rect class="t" x="233" y="1763" width="89" height="42"/><text x="277.5" y="1789.5">Emeka</text></g>
<g id="dn-8"><rect class="t" x="233" y="1814" width="89" height="42"/><text x="277.5" y="1840.5">Ngozi</text></g>
<g id="om-1"><rect class="t" x="391" y="1442" width="90" height="42"/><text x="436" y="1468.5">Okwukwe</text></g>
<g id="om-2"><rect class="t" x="391" y="1495" width="90" height="42"/><text x="436" y="1521.5">Ndidi</text></g>
<g id="om-3"><rect class="t" x="391" y="1550" width="90" height="42"/><text x="436" y="1576.5">Okwudili</text></g>
<g id="om-4"><rect class="t" x="391" y="1604" width="90" height="42"/><text class="s" x="436" y="1622">Uzordinma<tspan x="436" y="1638">(Baba)</tspan></text></g>
<g id="om-5"><rect class="t" x="391" y="1658" width="90" height="42"/><text x="436" y="1684.5">Osita</text></g>
<g id="om-6"><rect class="t" x="391" y="1710" width="90" height="42"/><text x="436" y="1736.5">Nnabuzor</text></g>
<g id="om-7"><rect class="t" x="391" y="1763" width="90" height="42"/><text x="436" y="1789.5">Chimezie</text></g>
<g id="ah-1"><rect class="t" x="543" y="1442" width="89" height="42"/><text class="s" x="587.5" y="1460">Azu<tspan x="587.5" y="1476">(Vince)</tspan></text></g>
<g id="ah-2"><rect class="t" x="543" y="1495" width="89" height="42"/><text x="587.5" y="1521.5">Nneka</text></g>
<g id="ah-3"><rect class="t" x="543" y="1550" width="89" height="42"/><text class="s" x="587.5" y="1568">Emeka<tspan x="587.5" y="1584">(Daddy)</tspan></text></g>
<g id="ah-4"><rect class="t" x="543" y="1604" width="89" height="42"/><text x="587.5" y="1630.5">Nonyelum</text></g>
<g id="ah-5"><rect class="t" x="543" y="1658" width="89" height="42"/><text x="587.5" y="1684.5">Uchenna</text></g>
<g id="ah-6"><rect class="t" x="543" y="1710" width="89" height="42"/><text x="587.5" y="1736.5">Chukwudi</text></g>
<g id="ah-7"><rect class="t" x="543" y="1763" width="89" height="42"/><text class="s" x="587.5" y="1781">Ifeanyi-<tspan x="587.5" y="1797">chukwu</tspan></text></g>
<g id="mg-1"><rect class="t" x="682" y="1442" width="89" height="42"/><text x="726.5" y="1468.5">Josephine</text></g>
<g id="mg-2"><rect class="t" x="682" y="1495" width="89" height="42"/><text x="726.5" y="1521.5">Iyke</text></g>
<g id="mg-3"><rect class="t" x="682" y="1550" width="89" height="42"/><text x="726.5" y="1576.5">Nwogidi</text></g>
<g id="mg-4"><rect class="t" x="682" y="1604" width="89" height="42"/><text x="726.5" y="1630.5">Chukwudi</text></g>
<g id="mg-5"><rect class="t" x="682" y="1658" width="89" height="42"/><text x="726.5" y="1684.5">Ifeanyi</text></g>
<g id="mg-6"><rect class="t" x="682" y="1710" width="89" height="42"/><text x="726.5" y="1736.5">Obiageli</text></g>
<g id="nk-1"><rect class="t" x="823" y="1442" width="89" height="42"/><text x="867.5" y="1468.5">Leonard</text></g>
<g id="nk-2"><rect class="t" x="823" y="1495" width="89" height="42"/><text x="867.5" y="1521.5">Ifeoma</text></g>
<g id="nk-3"><rect class="t" x="823" y="1550" width="89" height="42"/><text x="867.5" y="1576.5">Chiedu</text></g>
<g id="nk-4"><rect class="t" x="823" y="1604" width="89" height="42"/><text x="867.5" y="1630.5">Onweazu</text></g>
<g id="nk-5"><rect class="t" x="823" y="1658" width="89" height="42"/><text x="867.5" y="1684.5">Chete</text></g>
<g id="nk-6"><rect class="t" x="823" y="1710" width="89" height="42"/><text x="867.5" y="1736.5">Uche</text></g>

<g id="anyana"><rect class="i" x="14" y="2113" width="89" height="40"/><text x="58.5" y="2138.5">Anyana</text></g>
<g id="obukwanwa"><rect class="i" x="185" y="2113" width="91" height="41"/><text x="230.5" y="2139">Obukwanwa</text></g>
<g id="nwamgbo"><rect class="i" x="285" y="2113" width="75" height="40"/><text x="322.5" y="2138.5">Nwamgbo</text></g>
<g id="etuezim"><rect class="i" x="366" y="2113" width="73" height="40"/><text x="402.5" y="2138.5">Etuezim</text></g>
<g id="okute"><rect class="i" x="473" y="2113" width="65" height="40"/><text x="505.5" y="2138.5">Okute</text></g>
<g id="animudu"><rect class="i" x="551" y="2113" width="76" height="41"/><text x="589" y="2139">Animudu</text></g>
<g id="nwokolo"><rect class="i" x="653" y="2113" width="76" height="40"/><text class="s" x="691" y="2130">Nwokolo<tspan x="691" y="2146">(Repair)</tspan></text></g>
<g id="chima"><rect class="i" x="757" y="2113" width="62" height="40"/><text x="788" y="2138.5">Chima</text></g>
<g id="uwagwu"><rect class="i" x="864" y="2113" width="86" height="41"/><text x="907" y="2139">Uwagwu</text></g>
<g id="bogwu"><rect class="i" x="1023" y="2113" width="69" height="41"/><text x="1057.5" y="2139">Bogwu</text></g>
<g id="maduagwu"><rect class="i" x="1115" y="2113" width="80" height="40"/><text x="1155" y="2138.5">Maduagwu</text></g>
<g id="mikaodu"><rect class="i" x="1210" y="2113" width="83" height="40"/><text x="1251.5" y="2138.5">Mika-Odu</text></g>
<g id="egwu"><rect class="i" x="1305" y="2113" width="65" height="40"/><text x="1337.5" y="2138.5">Egwu</text></g>
<g id="illoh"><rect class="i" x="1379" y="2113" width="65" height="40"/><text x="1411.5" y="2138.5">Illoh</text></g>

<g id="akabunwa"><rect class="i" x="20" y="2206" width="89" height="42"/><text x="64.5" y="2232.5">Akabunwa</text></g>
<g id="onicha"><rect class="i" x="151" y="2206" width="88" height="42"/><text class="s" x="195" y="2224">Onicha<tspan x="195" y="2240">(Josephine)</tspan></text></g>
<g id="eke"><rect class="i" x="274" y="2206" width="83" height="42"/><text x="315.5" y="2232.5">Eke</text></g>
<g id="okonkwo"><rect class="i" x="371" y="2206" width="81" height="42"/><text x="411.5" y="2232.5">Okonkwo</text></g>
<g id="ab-1"><rect class="t" x="33" y="2270" width="89" height="42"/><text x="77.5" y="2296.5">Ngozi</text></g>
<g id="ab-2"><rect class="t" x="33" y="2324" width="89" height="42"/><text x="77.5" y="2350.5">Ogechukwu</text></g>
<g id="ab-3"><rect class="t" x="33" y="2379" width="89" height="42"/><text x="77.5" y="2405.5">Ndudi</text></g>
<g id="ab-4"><rect class="t" x="33" y="2433" width="89" height="42"/><text x="77.5" y="2459.5">Ozioma</text></g>
<g id="ab-5"><rect class="t" x="33" y="2487" width="89" height="42"/><text x="77.5" y="2513.5">Ebele</text></g>
<g id="ab-6"><rect class="t" x="33" y="2540" width="89" height="42"/><text x="77.5" y="2566.5">Nkechi</text></g>
<g id="ab-7"><rect class="t" x="33" y="2592" width="89" height="42"/><text x="77.5" y="2618.5">Emeka</text></g>
<g id="on-1"><rect class="t" x="164" y="2270" width="89" height="42"/><text x="208.5" y="2296.5">Obiageli</text></g>
<g id="on-2"><rect class="t" x="164" y="2324" width="89" height="42"/><text x="208.5" y="2350.5">Ifeanyi</text></g>
<g id="on-3"><rect class="t" x="164" y="2379" width="89" height="42"/><text x="208.5" y="2405.5">Ebele</text></g>
<g id="on-4"><rect class="t" x="164" y="2433" width="89" height="42"/><text x="208.5" y="2459.5">Obiora</text></g>
<g id="on-5"><rect class="t" x="164" y="2487" width="89" height="42"/><text x="208.5" y="2513.5">Onyeka</text></g>
<g id="ek-1"><rect class="t" x="287" y="2270" width="81" height="42"/><text x="327.5" y="2296.5">Okafor</text></g>
<g id="ek-2"><rect class="t" x="287" y="2324" width="81" height="42"/><text x="327.5" y="2350.5">Onuoma</text></g>
<g id="ku-1"><rect class="t" x="483" y="2174" width="65" height="39"/><text x="515.5" y="2199">Eke</text></g>
<g id="ku-2"><rect class="t" x="483" y="2224" width="65" height="39"/><text x="515.5" y="2249">Boye</text></g>
<g id="ku-3"><rect class="t" x="483" y="2273" width="65" height="39"/><text x="515.5" y="2298">Titi</text></g>
<g id="omeogor2"><rect class="i" x="308" y="2443" width="77" height="40"/><text x="346.5" y="2468.5">Omeogor</text></g>
<g id="loke"><rect class="i" x="396" y="2443" width="71" height="40"/><text x="431.5" y="2468.5">Loke</text></g>
<g id="ndubuisi"><rect class="i" x="476" y="2443" width="72" height="40"/><text x="512" y="2468.5">Ndubuisi</text></g>
<g id="osei"><rect class="i" x="562" y="2443" width="62" height="40"/><text x="593" y="2468.5">Osei</text></g>
<g id="azuka"><rect class="t" x="397" y="2503" width="70" height="40"/><text x="432" y="2528.5">Azuka</text></g>
<g id="o2-1"><rect class="t" x="317" y="2504" width="72" height="40"/><text x="353" y="2529.5">Gold</text></g>
<g id="o2-2"><rect class="t" x="317" y="2554" width="72" height="40"/><text x="353" y="2579.5">Ifeanyi</text></g>
<g id="o2-3"><rect class="t" x="317" y="2602" width="72" height="40"/><text x="353" y="2627.5">Kifodu</text></g>
<g id="o2-4"><rect class="t" x="317" y="2650" width="72" height="40"/><text x="353" y="2675.5">Sunday</text></g>
<g id="o2-5"><rect class="t" x="317" y="2695" width="72" height="40"/><text x="353" y="2720.5">Nkechi</text></g>
<g id="nw-1"><rect class="t" x="662" y="2174" width="72" height="40"/><text x="698" y="2199.5">Michael</text></g>
<g id="nw-2"><rect class="t" x="662" y="2224" width="72" height="40"/><text x="698" y="2249.5">Walaka</text></g>
<g id="nw-3"><rect class="t" x="662" y="2272" width="72" height="40"/><text x="698" y="2297.5">Dominic</text></g>
<g id="nw-4"><rect class="t" x="662" y="2319" width="72" height="40"/><text x="698" y="2344.5">Mebele</text></g>
<g id="nw-5"><rect class="t" x="662" y="2365" width="72" height="40"/><text x="698" y="2390.5">Unoju</text></g>
<g id="nw-6"><rect class="t" x="662" y="2410" width="72" height="40"/><text x="698" y="2435.5">Baby</text></g>
<g id="chukwunwike"><rect class="i" x="760" y="2184" width="98" height="39"/><text class="s" x="809" y="2200.5">Chukwunwike<tspan x="809" y="2216.5">(Okolie)</tspan></text></g>
<g id="cyril"><rect class="i" x="879" y="2184" width="76" height="39"/><text class="s" x="917" y="2200.5">Cyril<tspan x="917" y="2216.5">(Babwire)</tspan></text></g>
<g id="nkem"><rect class="i" x="967" y="2184" width="70" height="39"/><text x="1002" y="2209">Nkem</text></g>
<g id="nkem-1"><rect class="t" x="968" y="2243" width="69" height="40"/><text x="1002.5" y="2268.5">?</text></g>
<g id="ch-1"><rect class="t" x="768" y="2244" width="73" height="39"/><text x="804.5" y="2269">Uju</text></g>
<g id="ch-2"><rect class="t" x="768" y="2294" width="77" height="39"/><text x="806.5" y="2319">Nnamdi</text></g>
<g id="ch-3"><rect class="t" x="768" y="2342" width="73" height="39"/><text x="804.5" y="2367">Aku</text></g>
<g id="ch-4"><rect class="t" x="768" y="2391" width="73" height="39"/><text x="804.5" y="2416">Dike</text></g>
<g id="cy-1"><rect class="t" x="887" y="2244" width="74" height="39"/><text x="924" y="2269">Hope</text></g>
<g id="cy-2"><rect class="t" x="887" y="2294" width="77" height="39"/><text x="925.5" y="2319">Nonyelum</text></g>
<g id="cy-3"><rect class="t" x="887" y="2342" width="74" height="39"/><text x="924" y="2367">Ifunanya</text></g>
<g id="cy-4"><rect class="t" x="887" y="2389" width="74" height="39"/><text x="924" y="2414">Onyeka</text></g>
<g id="cy-5"><rect class="t" x="887" y="2435" width="74" height="39"/><text x="924" y="2460">Ashioma</text></g>
<g id="cy-6"><rect class="t" x="887" y="2482" width="74" height="39"/><text x="924" y="2507">Okwulwe</text></g>
<g id="cy-7"><rect class="t" x="887" y="2529" width="74" height="39"/><text x="924" y="2554">Akala</text></g>
<g id="nwabuzor"><rect class="i" x="971" y="2484" width="84" height="38"/><text x="1013" y="2508.5">Nwabuzor</text></g>
<g id="abiamuwe"><rect class="i" x="1067" y="2484" width="81" height="38"/><text x="1107.5" y="2508.5">Abiamuwe</text></g>
<g id="afamuefune"><rect class="t" x="1061" y="2543" width="97" height="39"/><text x="1109.5" y="2568">Afamuefune</text></g>
<g id="md-1"><rect class="t" x="1124" y="2174" width="70" height="40"/><text x="1159" y="2199.5">Paul</text></g>
<g id="md-2"><rect class="t" x="1124" y="2224" width="70" height="40"/><text x="1159" y="2249.5">Mgbolie</text></g>
<g id="md-3"><rect class="t" x="1124" y="2272" width="70" height="40"/><text x="1159" y="2297.5">Titi</text></g>
<g id="md-4"><rect class="t" x="1124" y="2319" width="70" height="40"/><text x="1159" y="2344.5">Atamafo</text></g>
<g id="md-5"><rect class="t" x="1124" y="2364" width="70" height="40"/><text x="1159" y="2389.5">Ngeme</text></g>
<g id="md-6"><rect class="t" x="1124" y="2410" width="70" height="40"/><text x="1159" y="2435.5">Grace</text></g>

<g id="osaji"><rect class="b" x="186" y="2823" width="79" height="40"/><text x="225.5" y="2848.5">Osaji</text></g>
<g id="aghasinti"><rect class="b" x="329" y="2822" width="88" height="38"/><text x="373" y="2846.5">Aghasinti</text></g>
<g id="nwabuzor-b"><rect class="b" x="513" y="2823" width="80" height="40"/><text x="553" y="2848.5">Nwabuzor</text></g>
<g id="anidiwe"><rect class="b" x="660" y="2823" width="80" height="40"/><text x="700" y="2848.5">Anidiwe</text></g>
<g id="biose"><rect class="b" x="931" y="2823" width="80" height="40"/><text x="971" y="2848.5">Biose</text></g>
<g id="ogufe"><rect class="b" x="1170" y="2820" width="80" height="40"/><text x="1210" y="2845.5">Ogufe</text></g>
<g id="ifejika"><rect class="b" x="1269" y="2822" width="87" height="38"/><text x="1312.5" y="2846.5">Ifejika</text></g>
<g id="monye"><rect class="b" x="1399" y="2822" width="80" height="39"/><text x="1439" y="2847">Monye</text></g>
<g id="os-1"><rect class="t" x="191" y="2884" width="81" height="39"/><text x="231.5" y="2909">Mbanugo</text></g>
<g id="os-2"><rect class="t" x="191" y="2934" width="81" height="39"/><text x="231.5" y="2959">Echemozo</text></g>
<g id="ibeli"><rect class="i" x="513" y="2884" width="80" height="40"/><text x="553" y="2909.5">Ibeli</text></g>
<g id="ib-1"><rect class="t" x="522" y="2945" width="81" height="39"/><text class="s" x="562.5" y="2961.5">Chukwuma<tspan x="562.5" y="2977.5">(Isoko)</tspan></text></g>
<g id="ib-2"><rect class="t" x="522" y="2995" width="81" height="39"/><text x="562.5" y="3020">Adaolie</text></g>
<g id="ib-3"><rect class="t" x="522" y="3043" width="81" height="39"/><text x="562.5" y="3068">Sunday</text></g>
<g id="ib-4"><rect class="t" x="522" y="3090" width="81" height="39"/><text x="562.5" y="3115">Onyeisi</text></g>
<g id="ib-5"><rect class="t" x="522" y="3138" width="81" height="39"/><text x="562.5" y="3163">Agiliga</text></g>
<g id="ib-6"><rect class="t" x="522" y="3183" width="81" height="39"/><text x="562.5" y="3208">Uche</text></g>
<g id="ib-7"><rect class="t" x="522" y="3230" width="81" height="39"/><text x="562.5" y="3255">Nkeonye</text></g>
<g id="christopher"><rect class="i" x="660" y="2884" width="86" height="40"/><text x="703" y="2909.5">Christopher</text></g>
<g id="cr-1"><rect class="t" x="669" y="2945" width="80" height="39"/><text x="709" y="2970">Sunday</text></g>
<g id="cr-2"><rect class="t" x="669" y="2995" width="80" height="39"/><text x="709" y="3020">?</text></g>
<g id="cr-3"><rect class="t" x="669" y="3043" width="80" height="39"/><text x="709" y="3068">?</text></g>
<g id="cr-4"><rect class="t" x="669" y="3090" width="80" height="39"/><text x="709" y="3115">?</text></g>
<g id="cr-5"><rect class="t" x="669" y="3138" width="80" height="39"/><text x="709" y="3163">?</text></g>
<g id="dunkwu"><rect class="i" x="931" y="2884" width="80" height="38"/><text x="971" y="2908.5">Dunkwu</text></g>
<g id="iweanyi"><rect class="i" x="820" y="2964" width="69" height="39"/><text x="854.5" y="2989">Iweanyi</text></g>
<g id="eke-d"><rect class="i" x="897" y="2964" width="55" height="39"/><text x="924.5" y="2989">Eke</text></g>
<g id="anna"><rect class="i" x="961" y="2964" width="53" height="39"/><text x="987.5" y="2989">Anna</text></g>
<g id="nwanne"><rect class="i" x="1023" y="2964" width="60" height="39"/><text x="1053" y="2989">Nwanne</text></g>
<g id="illoh-d"><rect class="i" x="1091" y="2964" width="53" height="39"/><text x="1117.5" y="2989">Illoh</text></g>
<g id="iw-1"><rect class="t" x="829" y="3025" width="80" height="39"/><text x="869" y="3050">Okonkwo</text></g>
<g id="iw-2"><rect class="t" x="829" y="3075" width="80" height="39"/><text x="869" y="3100">Baby</text></g>
<g id="iw-3"><rect class="t" x="829" y="3123" width="80" height="39"/><text x="869" y="3148">Nwaifeje</text></g>
<g id="og-1"><rect class="t" x="1179" y="2881" width="79" height="39"/><text x="1218.5" y="2906">Ikechukwu</text></g>
<g id="og-2"><rect class="t" x="1179" y="2931" width="79" height="39"/><text x="1218.5" y="2956">Okeleke</text></g>
<g id="og-3"><rect class="t" x="1179" y="2979" width="79" height="39"/><text x="1218.5" y="3004">Okunwa</text></g>
<g id="nkeosekwu"><rect class="t" x="1398" y="2883" width="88" height="39"/><text x="1442" y="2908">Nkeosekwu</text></g>
<g id="chisindi"><rect class="i" x="1129" y="3078" width="83" height="39"/><text x="1170.5" y="3103">Chisindi</text></g>
<g id="awanye"><rect class="i" x="1243" y="3078" width="68" height="39"/><text x="1277" y="3103">Awanye</text></g>
<g id="zeleagbor"><rect class="i" x="1364" y="3078" width="76" height="39"/><text x="1402" y="3103">Zeleagbor</text></g>
<g id="charles"><rect class="t" x="1243" y="3131" width="68" height="40"/><text x="1277" y="3156.5">Charles</text></g>
<g id="ze-1"><rect class="t" x="1373" y="3139" width="67" height="39"/><text x="1406.5" y="3164">Okolie</text></g>
<g id="ze-2"><rect class="t" x="1373" y="3184" width="67" height="39"/><text x="1406.5" y="3209">Okonji</text></g>
<g id="ze-3"><rect class="t" x="1373" y="3229" width="67" height="39"/><text x="1406.5" y="3254">Ndubuisi</text></g>
<g id="amu"><rect class="i" x="670" y="3324" width="71" height="40"/><text x="705.5" y="3349.5">Amu</text></g>
<g id="dibia"><rect class="i" x="752" y="3324" width="70" height="40"/><text x="787" y="3349.5">Dibia</text></g>
<g id="okafor-c"><rect class="i" x="829" y="3324" width="73" height="40"/><text x="865.5" y="3349.5">Okafor</text></g>
<g id="ndidi-c"><rect class="i" x="922" y="3324" width="74" height="40"/><text x="959" y="3349.5">Ndidi</text></g>
<g id="okwuchi"><rect class="i" x="1025" y="3324" width="77" height="40"/><text x="1063.5" y="3349.5">Okwuchi</text></g>
<g id="josiah"><rect class="i" x="1135" y="3324" width="77" height="40"/><text x="1173.5" y="3349.5">Josiah</text></g>
<g id="agwunwa"><rect class="i" x="1260" y="3324" width="77" height="40"/><text x="1298.5" y="3349.5">Agwunwa</text></g>
<g id="ahibuogwu"><rect class="i" x="1392" y="3324" width="87" height="40"/><text x="1435.5" y="3349.5">Ahibuogwu</text></g>
<g id="adankwo"><rect class="t" x="921" y="3388" width="71" height="39"/><text x="956.5" y="3413">Adankwo</text></g>
<g id="kc-1"><rect class="t" x="1012" y="3380" width="77" height="39"/><text x="1050.5" y="3405">Mabele</text></g>
<g id="kc-2"><rect class="t" x="1012" y="3429" width="77" height="39"/><text class="s" x="1050.5" y="3445.5">Chukwu-<tspan x="1050.5" y="3461.5">nekwu</tspan></text></g>
<g id="js-1"><rect class="t" x="1118" y="3380" width="81" height="39"/><text x="1158.5" y="3405">Oji</text></g>
<g id="js-2"><rect class="t" x="1118" y="3428" width="81" height="39"/><text x="1158.5" y="3453">Chukwuma</text></g>
<g id="js-3"><rect class="t" x="1118" y="3475" width="81" height="39"/><text x="1158.5" y="3500">Illoh</text></g>
<g id="ag-1"><rect class="t" x="1244" y="3383" width="86" height="39"/><text x="1287" y="3408">Kamaliose</text></g>
<g id="ag-2"><rect class="t" x="1244" y="3432" width="86" height="39"/><text x="1287" y="3457">Okolie</text></g>
<g id="ag-3"><rect class="t" x="1244" y="3484" width="86" height="39"/><text x="1287" y="3509">Boluonye</text></g>
<g id="ag-4"><rect class="t" x="1244" y="3534" width="86" height="39"/><text x="1287" y="3559">Umezie</text></g>
<g id="ai-1"><rect class="t" x="1376" y="3402" width="88" height="39"/><text x="1420" y="3427">Onwuka</text></g>
<g id="ai-2"><rect class="t" x="1376" y="3451" width="88" height="39"/><text class="s" x="1420" y="3467.5">Egbunonwo<tspan x="1420" y="3483.5">(Miss)</tspan></text></g>
<g id="ai-3"><rect class="t" x="1376" y="3500" width="88" height="39"/><text x="1420" y="3525">Chiedu</text></g>
<g id="ai-4"><rect class="t" x="1376" y="3553" width="88" height="39"/><text class="s" x="1420" y="3569.5">Ifeoseme<tspan x="1420" y="3585.5">(Boiler)</tspan></text></g>
<g id="ai-5"><rect class="t" x="1376" y="3603" width="88" height="39"/><text x="1420" y="3628">Adaolie</text></g>
<g id="ai-6"><rect class="t" x="1376" y="3653" width="88" height="39"/><text x="1420" y="3678">Sunday</text></g>

<g id="isichei"><rect class="i" x="23" y="3314" width="80" height="39"/><text x="63" y="3339">Isichei</text></g>
<g id="kanweri"><rect class="i" x="120" y="3314" width="67" height="39"/><text x="153.5" y="3339">Kanweri</text></g>
<g id="eghe"><rect class="i" x="197" y="3314" width="60" height="39"/><text x="227" y="3339">Eghe</text></g>
<g id="agunwa"><rect class="i" x="269" y="3314" width="61" height="39"/><text x="299.5" y="3339">Agunwa</text></g>
<g id="maduka"><rect class="i" x="349" y="3314" width="79" height="39"/><text x="388.5" y="3339">Maduka</text></g>
<g id="onwordi"><rect class="i" x="459" y="3314" width="79" height="39"/><text x="498.5" y="3339">Onwordi</text></g>
<g id="kanfuekwu"><rect class="i" x="566" y="3314" width="84" height="39"/><text x="608" y="3339">Kanfuekwu</text></g>
<g id="is-1"><rect class="t" x="33" y="3375" width="80" height="39"/><text class="s" x="73" y="3391.5">Yadi<tspan x="73" y="3407.5">(Alex)</tspan></text></g>
<g id="is-2"><rect class="f" x="33" y="3422" width="105" height="39"/><text class="s" x="85.5" y="3438.5">Onyenweneoda<tspan x="85.5" y="3454.5">(Francis)</tspan></text></g>
<g id="is-3"><rect class="t" x="33" y="3474" width="80" height="39"/><text x="73" y="3499">Adaeke</text></g>
<g id="is-4"><rect class="t" x="33" y="3521" width="80" height="39"/><text x="73" y="3546">Anombem</text></g>
<g id="is-5"><rect class="t" x="33" y="3568" width="80" height="39"/><text x="73" y="3593">Nelson</text></g>
<g id="is-6"><rect class="t" x="33" y="3614" width="80" height="39"/><text x="73" y="3639">Sunday</text></g>
<g id="is-7"><rect class="t" x="33" y="3660" width="80" height="39"/><text x="73" y="3685">Nwafor</text></g>
<g id="is-8"><rect class="t" x="33" y="3709" width="80" height="39"/><text x="73" y="3734">Sowakwue</text></g>
<g id="is-9"><rect class="t" x="33" y="3757" width="80" height="39"/><text x="73" y="3782">Nwaukoni</text></g>
<g id="is-10"><rect class="t" x="33" y="3805" width="80" height="39"/><text class="s" x="73" y="3821.5">Uchie<tspan x="73" y="3837.5">(Christian)</tspan></text></g>
<g id="is-11"><rect class="t" x="33" y="3852" width="80" height="39"/><text class="s" x="73" y="3868.5">Igboidu<tspan x="73" y="3884.5">(Julius)</tspan></text></g>
<g id="is-12"><rect class="t" x="33" y="3897" width="80" height="39"/><text class="s" x="73" y="3913.5">Okolie<tspan x="73" y="3929.5">(James)</tspan></text></g>
<g id="is-13"><rect class="t" x="33" y="3942" width="80" height="39"/><text class="s" x="73" y="3958.5">Mbanugo<tspan x="73" y="3974.5">(Emma)</tspan></text></g>
<g id="is-14"><rect class="t" x="33" y="3991" width="80" height="39"/><text x="73" y="4016">Margaret</text></g>
<g id="uzorka"><rect class="l" x="166" y="3420" width="80" height="40"/><text class="s" x="206" y="3437">Uzorka<tspan x="206" y="3453">(Peter)</tspan></text></g>
<g id="anwuli"><rect class="l" x="166" y="3470" width="80" height="39"/><text x="206" y="3495">Anwuli</text></g>
<g id="emeka-f"><rect class="l" x="166" y="3521" width="85" height="38"/><text x="208.5" y="3545.5">Emeka</text></g>
<g id="ma-1"><rect class="t" x="357" y="3374" width="81" height="39"/><text x="397.5" y="3399">Nwaukoni</text></g>
<g id="ma-2"><rect class="t" x="357" y="3423" width="81" height="39"/><text x="397.5" y="3448">Oyi</text></g>
<g id="ma-3"><rect class="t" x="357" y="3473" width="81" height="43"/><text class="s" x="397.5" y="3491.5">Nwaidigwu<tspan x="397.5" y="3507.5">(Chiedu)</tspan></text></g>
<g id="ma-4"><rect class="t" x="357" y="3525" width="81" height="39"/><text x="397.5" y="3550">Neanya</text></g>
<g id="ma-5"><rect class="t" x="357" y="3573" width="81" height="39"/><text x="397.5" y="3598">Nkili</text></g>
<g id="ow-1"><rect class="t" x="467" y="3374" width="81" height="39"/><text class="s" x="507.5" y="3390.5">Nwaokon-<tspan x="507.5" y="3406.5">kwo</tspan></text></g>
<g id="ow-2"><rect class="t" x="467" y="3423" width="81" height="39"/><text x="507.5" y="3448">Ashiedu</text></g>
<g id="ow-3"><rect class="t" x="467" y="3474" width="84" height="39"/><text x="509" y="3499">Mgbonkwo</text></g>
<g id="kf-1"><rect class="t" x="575" y="3374" width="80" height="39"/><text class="s" x="615" y="3390.5">Unoegbu-<tspan x="615" y="3406.5">nem</tspan></text></g>
<g id="kf-2"><rect class="t" x="575" y="3423" width="80" height="39"/><text x="615" y="3448">Anyagazia</text></g>
</g>

<g id="footer">
<text class="wm" x="19" y="4098" font-size="36">©</text>
<text class="wm" x="60" y="4095" font-size="24.5">IdumujeUgboko.com</text>
</g>
</g>
</svg>
